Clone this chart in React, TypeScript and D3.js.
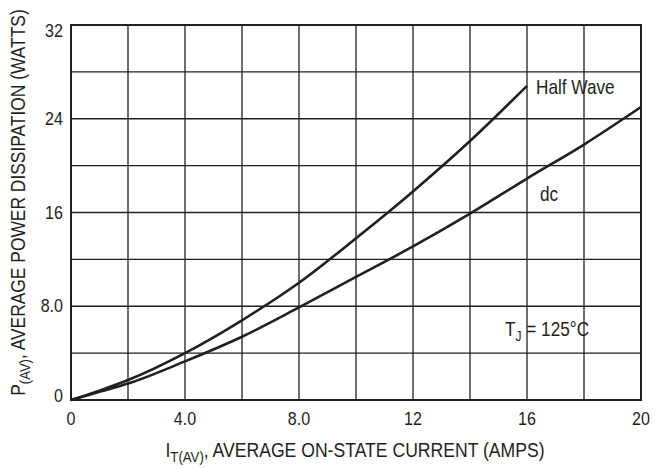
import React from 'react';
import * as d3 from 'd3';

// readings, amps vs watts
const halfWaveI = [0, 1, 2, 4, 6, 8, 10, 12, 14, 16];
const halfWaveP = [0, 0.8, 1.7, 4.0, 6.8, 10.0, 13.8, 17.8, 22.1, 26.8];
const dcI = [0, 1, 2, 4, 6, 8, 10, 12, 14, 16, 18, 20];
const dcP = [0, 0.7, 1.4, 3.3, 5.4, 7.9, 10.5, 13.1, 15.9, 18.9, 21.8, 25.0];

const xTicks = [0, 4, 8, 12, 16, 20];
const xTickLabels = ['0', '4.0', '8.0', '12', '16', '20'];
const yTicks = [0, 8, 16, 24, 32];
const yTickLabels = ['0', '8.0', '16', '24', '32'];
const xGrid = d3.range(0, 21, 2);
const yGrid = d3.range(0, 33, 4);

const FONT = '"Liberation Sans", Arial, sans-serif';
const INK = '#231f20';

// the original uses a narrow face, so squeeze the regular one
function Narrow({ x, y, sx, rotate = 0, anchor = 'start', size, children }: any) {
  return (
    <g transform={`translate(${x},${y}) rotate(${rotate}) scale(${sx},1)`}>
      <text x={0} y={0} textAnchor={anchor} fontSize={size} fill={INK}>{children}</text>
    </g>
  );
}

export default function App() {
  const width = 660, height = 468;
  const m = { left: 71, right: 19, top: 25, bottom: 68 };

  const x = d3.scaleLinear().domain([0, 20]).range([m.left, width - m.right]);
  const y = d3.scaleLinear().domain([0, 32]).range([height - m.bottom, m.top]);

  const line = d3.line<[number, number]>()
    .x(d => x(d[0]))
    .y(d => y(d[1]))
    .curve(d3.curveMonotoneX);

  const hw = halfWaveI.map((v, i) => [v, halfWaveP[i]] as [number, number]);
  const dc = dcI.map((v, i) => [v, dcP[i]] as [number, number]);

  // nudge the end labels so they stay inside the frame height
  const yLabelDy = (t: number) => (t === 32 ? 12 : t === 0 ? 2 : 6);

  return (
    <svg width={width} height={height} style={{ position: 'absolute', left: 0, top: 0 }} fontFamily={FONT}>
      <rect x={0} y={0} width={width} height={height} fill="#fff" />

      {/* grid */}
      {xGrid.map(g => (
        <line key={'gx' + g} x1={x(g)} x2={x(g)} y1={y(0)} y2={y(32)} stroke={INK} strokeWidth={1.3} />
      ))}
      {yGrid.map(g => (
        <line key={'gy' + g} x1={x(0)} x2={x(20)} y1={y(g)} y2={y(g)} stroke={INK} strokeWidth={1.3} />
      ))}
      <rect x={x(0)} y={y(32)} width={x(20) - x(0)} height={y(0) - y(32)} fill="none" stroke={INK} strokeWidth={2} />

      {/* curves */}
      <path d={line(hw) || ''} fill="none" stroke={INK} strokeWidth={2.6} />
      <path d={line(dc) || ''} fill="none" stroke={INK} strokeWidth={2.6} />

      {/* tick labels */}
      {xTicks.map((t, i) => (
        <Narrow key={'xt' + t} x={x(t)} y={y(0) + 25} sx={0.92} anchor="middle" size={17.5}>{xTickLabels[i]}</Narrow>
      ))}
      {yTicks.map((t, i) => (
        <Narrow key={'yt' + t} x={x(0) - 8} y={y(t) + yLabelDy(t)} sx={0.92} anchor="end" size={17.5}>{yTickLabels[i]}</Narrow>
      ))}

      {/* annotations */}
      <Narrow x={x(16) + 9} y={y(26.6) + 6} sx={0.86} size={20}>Half Wave</Narrow>
      <Narrow x={x(16) + 13} y={y(17.5) + 6} sx={0.86} size={20}>dc</Narrow>
      <Narrow x={x(14) + 35} y={y(6.4) + 11} sx={0.86} size={20}>
        T<tspan fontSize={14} dy={5}>J</tspan><tspan dy={-5}> = 125°C</tspan>
      </Narrow>

      {/* axis titles */}
      <Narrow x={(x(0) + x(20)) / 2 - 1} y={y(0) + 57} sx={0.88} anchor="middle" size={20}>
        I<tspan fontSize={15} dy={5}>T(AV)</tspan><tspan dy={-5}>, AVERAGE ON-STATE CURRENT (AMPS)</tspan>
      </Narrow>
      <Narrow x={25} y={(y(0) + y(32)) / 2 - 10} rotate={-90} sx={0.87} anchor="middle" size={20}>
        P<tspan fontSize={15} dy={5}>(AV)</tspan><tspan dy={-5}>, AVERAGE POWER DISSIPATION (WATTS)</tspan>
      </Narrow>
    </svg>
  );
}
